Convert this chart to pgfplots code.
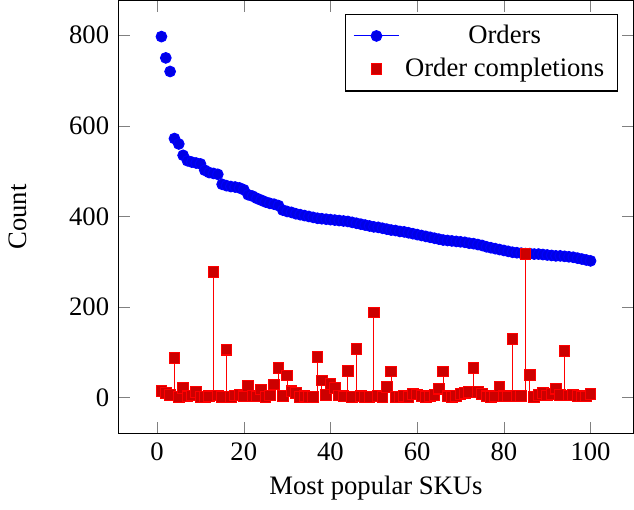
\documentclass[border=0pt]{standalone}
\usepackage{fontspec}
\setmainfont{Liberation Serif}
\usepackage{pgfplots}
\pgfplotsset{compat=1.18}
\begin{document}
\begin{tikzpicture}
\begin{axis}[
  scale only axis,
  width=192.5bp, height=161.8bp,
  xlabel={Most popular SKUs},
  ylabel={Count},
  ylabel shift=9bp,
  xlabel shift=-1bp,
  /pgf/number format/assume math mode=true,
  legend pos=north east,
  legend cell align=center,
  xtick={0,20,40,60,80,100},
  ytick={0,200,400,600,800},
]
\addplot[only marks, forget plot, color=blue, mark=*, mark options={fill=blue!90!black}] coordinates {
(1,797) (2,750) (3,720) (4,572) (5,560) (6,535) (7,523) (8,520) (9,518) (10,516)
(11,502) (12,497) (13,495) (14,493) (15,471) (16,468) (17,466) (18,465) (19,463) (20,459)
(21,448) (22,445) (23,440) (24,436) (25,432) (26,429) (27,427) (28,424) (29,414) (30,411)
(31,409) (32,406) (33,404) (34,402) (35,400) (36,398) (37,396) (38,395) (39,394) (40,393)
(41,392) (42,391) (43,390) (44,389) (45,387) (46,385) (47,383) (48,381) (49,379) (50,377)
(51,376) (52,374) (53,372) (54,370) (55,369) (56,367) (57,366) (58,364) (59,362) (60,360)
(61,358) (62,356) (63,354) (64,352) (65,350) (66,348) (67,347) (68,346) (69,345) (70,344)
(71,343) (72,341) (73,340) (74,338) (75,336) (76,333) (77,331) (78,329) (79,327) (80,325)
(81,323) (82,321) (83,320) (84,319) (85,318) (86,318) (87,317) (88,317) (89,316) (90,315)
(91,314) (92,313) (93,313) (94,312) (95,311) (96,310) (97,308) (98,306) (99,304) (100,302)
};
\addlegendimage{color=blue, mark=*, mark options={fill=blue!90!black}}
\addlegendentry{Orders}
\addplot[ycomb, color=red, mark=square*, mark options={draw=red, fill=red!80!black}] coordinates {
(1,15) (2,10) (3,6) (4,88) (5,2) (6,22) (7,3) (8,5) (9,12) (10,2)
(11,2) (12,3) (13,278) (14,5) (15,2) (16,106) (17,1) (18,5) (19,6) (20,3)
(21,26) (22,4) (23,3) (24,18) (25,2) (26,5) (27,29) (28,65) (29,4) (30,49)
(31,14) (32,10) (33,2) (34,3) (35,1) (36,2) (37,90) (38,38) (39,6) (40,30)
(41,22) (42,5) (43,3) (44,59) (45,2) (46,108) (47,3) (48,2) (49,2) (50,188)
(51,4) (52,2) (53,24) (54,58) (55,2) (56,2) (57,4) (58,2) (59,8) (60,7)
(61,4) (62,2) (63,3) (64,6) (65,20) (66,58) (67,3) (68,2) (69,4) (70,8)
(71,10) (72,12) (73,65) (74,12) (75,8) (76,3) (77,2) (78,3) (79,25) (80,3)
(81,3) (82,130) (83,4) (84,4) (85,317) (86,50) (87,2) (88,6) (89,10) (90,5)
(91,8) (92,20) (93,6) (94,103) (95,5) (96,6) (97,4) (98,3) (99,3) (100,8)
};
\addlegendentry{Order completions}
\end{axis}
\end{tikzpicture}
\end{document}
